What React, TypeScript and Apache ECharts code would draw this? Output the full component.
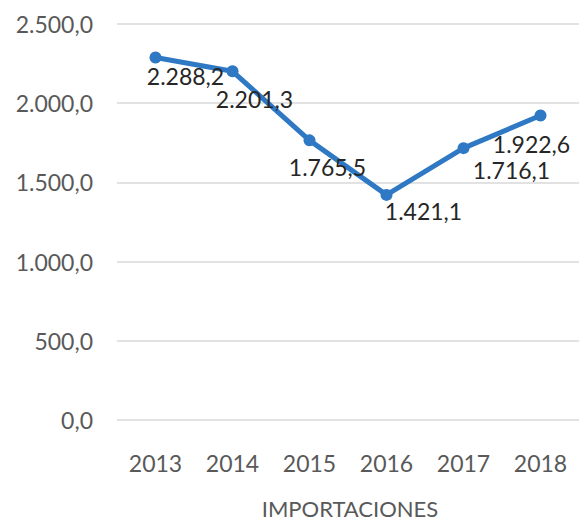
import React, { useEffect, useRef } from "react";
import * as echarts from "echarts";

const categories = ["2013", "2014", "2015", "2016", "2017", "2018"];
const importaciones = [2288.2, 2201.3, 1765.5, 1421.1, 1716.1, 1922.6];
const yTicks = [0, 500, 1000, 1500, 2000, 2500];
const chartTitle = "IMPORTACIONES";

const labelOffsets: [number, number][] = [
  [30, 18],
  [22, 28],
  [18, 27],
  [37, 16],
  [48, 22],
  [-9, 29],
];

function fmt(v: number): string {
  const fixed = v.toFixed(1);
  const [intPart, dec] = fixed.split(".");
  const withDots = intPart.replace(/\B(?=(\d{3})+(?!\d))/g, ".");
  return withDots + "," + dec;
}

export default function App() {
  const ref = useRef<HTMLDivElement>(null);
  useEffect(() => {
    if (!ref.current) return;
    const chart = echarts.init(ref.current, null, { renderer: "svg" });
    const font = "Lato, 'Noto Sans', sans-serif";
    chart.setOption({
      animation: false,
      backgroundColor: "#ffffff",
      title: {
        text: chartTitle,
        left: 350,
        top: 497,
        padding: 0,
        textAlign: "center",
        textStyle: {
          color: "#595959",
          fontSize: 22,
          lineHeight: 22,
          fontWeight: "normal",
          fontFamily: font,
        },
      },
      grid: { left: 117, right: 0, top: 24, bottom: 100, containLabel: false },
      xAxis: {
        type: "category",
        data: categories,
        boundaryGap: true,
        axisLine: { show: false },
        axisTick: { show: false },
        axisLabel: {
          color: "#595959",
          fontSize: 23,
          fontFamily: font,
          margin: 31,
        },
      },
      yAxis: {
        type: "value",
        min: yTicks[0],
        max: yTicks[yTicks.length - 1],
        interval: 500,
        axisLine: { show: false },
        axisTick: { show: false },
        splitLine: { lineStyle: { color: "#d9d9d9", width: 1.5 } },
        axisLabel: {
          color: "#595959",
          fontSize: 23,
          fontFamily: font,
          margin: 24,
          formatter: (v: number) => fmt(v),
        },
      },
      series: [
        {
          type: "line",
          data: importaciones.map((v, i) => ({
            value: v,
            label: { offset: labelOffsets[i] },
          })),
          symbol: "circle",
          symbolSize: 12,
          lineStyle: { color: "#2E78C4", width: 5 },
          itemStyle: { color: "#2E78C4" },
          label: {
            show: true,
            position: "inside",
            color: "#262626",
            fontSize: 23,
            fontFamily: font,
            formatter: (p: any) => fmt(p.value),
          },
        },
      ],
    });
    return () => chart.dispose();
  }, []);
  return (
    <div
      ref={ref}
      style={{ position: "fixed", left: 0, top: 0, width: 579, height: 520 }}
    />
  );
}
